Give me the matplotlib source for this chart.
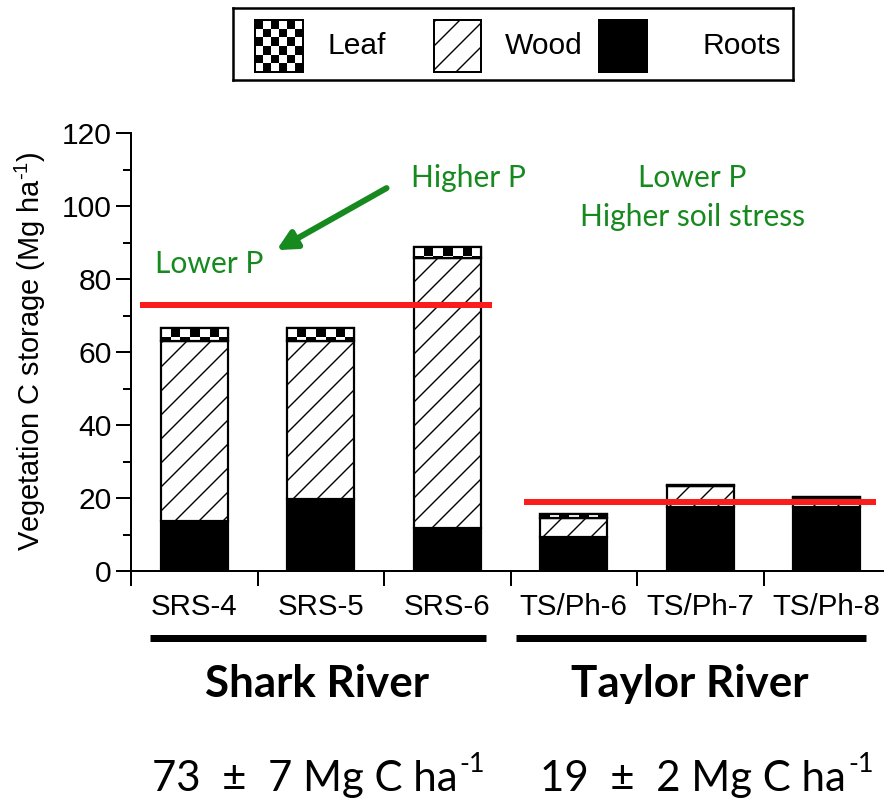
import numpy as np
import matplotlib
matplotlib.use("Agg")
import matplotlib.pyplot as plt
from matplotlib.patches import Rectangle
from matplotlib.transforms import blended_transform_factory

# mangrove vegetation carbon storage by site (Mg C ha-1)
sites = ["SRS-4", "SRS-5", "SRS-6", "TS/Ph-6", "TS/Ph-7", "TS/Ph-8"]
roots = [13.7, 19.8, 11.8, 9.3, 17.6, 17.4]
wood = [49.2, 43.3, 73.9, 5.1, 5.6, 2.5]
leaf = [3.6, 3.4, 3.1, 1.1, 0.4, 0.4]

rivers = ["Shark River", "Taylor River"]
river_means = [73, 19]
river_sds = [7, 2]
legend_labels = ["Leaf", "Wood", "Roots"]

DPI = 144
W, H = 884, 804


def px(p):
    # pixel size -> points
    return p * 72.0 / DPI


GREEN = "#16891f"
RED = "#fb1c1c"
ARIAL = "Liberation Sans"
CAL = "Lato"

plt.rcParams["hatch.linewidth"] = px(1.4)
plt.rcParams["font.family"] = ARIAL

fig = plt.figure(figsize=(W / DPI, H / DPI), dpi=DPI)
fig.patch.set_facecolor("white")

# axes box in pixels: y axis at x=131, y=0 at 571, y=120 at 133
ax = fig.add_axes([131 / W, 1 - 571 / H, (890 - 131) / W, (571 - 133) / H])
ax.set_xlim(0, 6)
ax.set_ylim(0, 120)

x = np.arange(len(sites)) + 0.5
bw = 0.53
roots = np.array(roots)
wood = np.array(wood)
leaf = np.array(leaf)
edge = px(2.2)

ax.bar(x, roots, bw, color="black", edgecolor="black", linewidth=edge, zorder=2)
ax.bar(x, wood, bw, bottom=roots, color="white", edgecolor="black",
       hatch="//", linewidth=edge, zorder=2)
leaf_bars = ax.bar(x, leaf, bw, bottom=roots + wood, color="white",
                   edgecolor="black", linewidth=edge, zorder=2)

# checker fill for the leaf segments
ppy = (571 - 133) / 120.0
ncol = 7
for b in leaf_bars:
    x0, y0 = b.get_x(), b.get_y()
    w = b.get_width()
    cell_h = 9.0 / ppy
    nrow = int(np.ceil(b.get_height() / cell_h)) + 1
    grid = (np.add.outer(np.arange(nrow), np.arange(ncol)) % 2)[::-1]
    top = y0 + b.get_height()
    im = ax.imshow(grid, cmap="gray_r", extent=(x0, x0 + w, top - nrow * cell_h, top),
                   aspect="auto", interpolation="nearest", zorder=2.5, vmin=0, vmax=1)
    im.set_clip_path(b)
    ax.add_patch(Rectangle((x0, y0), w, b.get_height(), fill=False,
                           edgecolor="black", linewidth=edge, zorder=3))
ax.set_xlim(0, 6)
ax.set_ylim(0, 120)

# river means
ax.plot([0.07, 2.85], [river_means[0]] * 2, color=RED, lw=px(6), zorder=4,
        solid_capstyle="butt")
ax.plot([3.11, 5.89], [river_means[1]] * 2, color=RED, lw=px(6), zorder=4,
        solid_capstyle="butt")

for s in ["top", "right"]:
    ax.spines[s].set_visible(False)
for s in ["left", "bottom"]:
    ax.spines[s].set_linewidth(px(2))

ax.set_yticks(np.arange(0, 121, 20))
ax.set_yticks(np.arange(10, 120, 20), minor=True)
ax.tick_params(axis="y", which="major", length=px(15), width=px(2),
               labelsize=px(30), pad=px(4))
ax.tick_params(axis="y", which="minor", length=px(8), width=px(2))

ax.set_xticks(np.arange(0, 7))
ax.set_xticklabels([])
ax.set_xticks(x, minor=True)
ax.set_xticklabels(sites, minor=True)
ax.tick_params(axis="x", which="major", length=px(15), width=px(2))
ax.tick_params(axis="x", which="minor", length=0, labelsize=px(29.5), pad=px(22))

fig.text(30 / W, 1 - 351 / H, "Vegetation C storage (Mg ha$\\mathregular{^{\u20101}}$)",
         rotation=90, ha="center", va="center", fontsize=px(29), family=ARIAL)

# annotations
gkw = dict(color=GREEN, family=CAL, fontsize=px(30), ha="center", va="center")
ax.text(2.67, 107.7, "Higher P", **gkw)
ax.text(0.62, 84.0, "Lower P", **gkw)
ax.text(4.44, 107.7, "Lower P", **gkw)
ax.text(4.44, 97.0, "Higher soil stress", **gkw)
ax.annotate("", xy=(1.15, 87.9), xytext=(2.02, 104.9),
            arrowprops=dict(arrowstyle="-|>", color=GREEN, lw=px(6),
                            mutation_scale=px(40), shrinkA=0, shrinkB=0))

# river grouping bars and labels
trans = blended_transform_factory(ax.transData, fig.transFigure)
for (a, b) in [(0.15, 2.81), (3.04, 5.81)]:
    ax.plot([a, b], [1 - 638 / H] * 2, color="black", lw=px(7), transform=trans,
            clip_on=False, solid_capstyle="butt")

fig.text(317 / W, 1 - 684 / H, rivers[0], family=CAL, weight="bold",
         fontsize=px(44), ha="center", va="center")
fig.text(690 / W, 1 - 684 / H, rivers[1], family=CAL, weight="bold",
         fontsize=px(44), ha="center", va="center")

fig.canvas.draw()
renderer = fig.canvas.get_renderer()
for xl, m, sd in [(152, river_means[0], river_sds[0]), (540, river_means[1], river_sds[1])]:
    t = fig.text(xl / W, 1 - 791 / H, f"{m}  ±  {sd} Mg C ha", family=CAL,
                 fontsize=px(42), ha="left", va="baseline")
    bb = t.get_window_extent(renderer)
    fig.text((bb.x1 + 2) / W, 1 - 772 / H, "-1", family=CAL, fontsize=px(27),
             ha="left", va="baseline")

# legend box
lax = fig.add_axes([233 / W, 1 - 80 / H, 560 / W, 72 / H])
lax.set_xticks([])
lax.set_yticks([])
for s in lax.spines.values():
    s.set_linewidth(px(2.5))
checker = (np.add.outer(np.arange(6), np.arange(6)) % 2)
lax.imshow(checker, cmap="gray", extent=(22, 70, 8, 60), aspect="auto",
           interpolation="nearest", vmin=0, vmax=1)
lax.add_patch(Rectangle((22, 8), 48, 52, fill=False, edgecolor="black", lw=px(2)))
lax.add_patch(Rectangle((201, 8), 47, 52, facecolor="white", edgecolor="black",
                        hatch="//", lw=px(2)))
lax.add_patch(Rectangle((366, 8), 48, 52, facecolor="black", edgecolor="black", lw=px(2)))
lax.set_xlim(0, 560)
lax.set_ylim(0, 72)
for xt, lab in zip([95, 272, 470], legend_labels):
    lax.text(xt, 34, lab, fontsize=px(30), family=ARIAL, ha="left", va="center")

fig.savefig("out.png", dpi=DPI)
